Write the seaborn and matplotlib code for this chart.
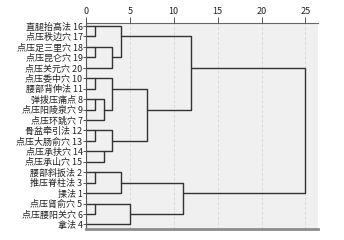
import math
import matplotlib.pyplot as plt
import seaborn as sns
import pandas as pd

# leaves top -> bottom
leaf_ids = [16, 17, 18, 19, 20, 10, 11, 8, 9, 7, 12, 13, 14, 15, 2, 3, 1, 5, 6, 4]
leaf_names = ['直腿抬高法', '点压秩边穴', '点压足三里穴', '点压昆仑穴', '点压关元穴',
              '点压委中穴', '腰部背伸法', '弹拨压痛点', '点压阳陵泉穴', '点压环跳穴',
              '骨盆牵引法', '点压大肠俞穴', '点压承扶穴', '点压承山穴', '腰部斜扳法',
              '推压脊柱法', '揉法', '点压肾俞穴', '点压腰阳关穴', '拿法']

# merges (rescaled distance)
merge_name = ['a', 'b', 'c', 'd', 'e', 'f', 'g', 'h', 'i', 'j', 'k', 'l', 'm',
              'n', 'o', 'p', 'q', 'r', 's']
merge_left = [16, 18, 'b', 'a', 10, 8, 'f', 'e', 12, 14, 'i', 'h', 'd',
              2, 'n', 5, 'p', 'o', 'm']
merge_right = [17, 19, 20, 'c', 11, 9, 7, 'g', 13, 15, 'j', 'k', 'l',
               3, 1, 6, 4, 'q', 'r']
merge_height = [1, 1, 3, 4, 1, 1, 2, 3, 1, 2, 3, 7, 12, 1, 4, 1, 5, 11, 25]

sns.set_theme(style='white')
plt.rcParams['font.family'] = ['Noto Sans CJK SC', 'DejaVu Sans']

# positions of nodes (SPSS style: node sits on the row at/above the midpoint)
pos = {lid: (0.0, r) for r, lid in enumerate(leaf_ids)}
rows = []
for name, a, b, h in zip(merge_name, merge_left, merge_right, merge_height):
    xa, ya = pos[a]
    xb, yb = pos[b]
    for k, (x, y) in enumerate([(xa, ya), (h, ya), (h, yb), (xb, yb)]):
        rows.append({'node': name, 'k': k, 'x': x, 'y': y})
    pos[name] = (h, math.floor((ya + yb) / 2))
seg = pd.DataFrame(rows)

fig = plt.figure(figsize=(3.44, 2.4), dpi=100)
ax = fig.add_axes([86 / 344, 1 - 229.3 / 240, (317.7 - 86) / 344, (229.3 - 22.7) / 240])
ax.set_facecolor('#f0f0f0')

for t in [5, 10, 15, 20, 25]:
    ax.axvline(t, color='#d9d9d9', lw=0.7, ls=(0, (3, 2)), zorder=0)

sns.lineplot(data=seg, x='x', y='y', units='node', estimator=None, sort=False,
             color='#333333', lw=1.0, ax=ax, legend=False)

ax.set_xlim(0, 26.4)
ax.set_ylim(19.46, -0.32)
ax.xaxis.tick_top()
ax.set_xticks([0, 5, 10, 15, 20, 25])
ax.tick_params(axis='x', top=True, length=4, width=0.7, color='#555555',
               labelsize=6.5, pad=1, labelcolor='#222222')
ax.set_yticks(range(len(leaf_ids)))
ax.set_yticklabels([f'{n} {i}' for n, i in zip(leaf_names, leaf_ids)])
ax.tick_params(axis='y', left=True, length=2, width=0.7, color='#555555',
               labelsize=6.5, pad=0.5, labelcolor='#222222')
ax.set_xlabel('')
ax.set_ylabel('')

ax.spines['right'].set_visible(False)
ax.spines['top'].set_color('#666666')
ax.spines['top'].set_linewidth(0.8)
ax.spines['left'].set_color('#555555')
ax.spines['left'].set_linewidth(0.8)
ax.spines['bottom'].set_color('#8c8c8c')
ax.spines['bottom'].set_linewidth(2)

fig.savefig('out.png', dpi=100, facecolor='white')
